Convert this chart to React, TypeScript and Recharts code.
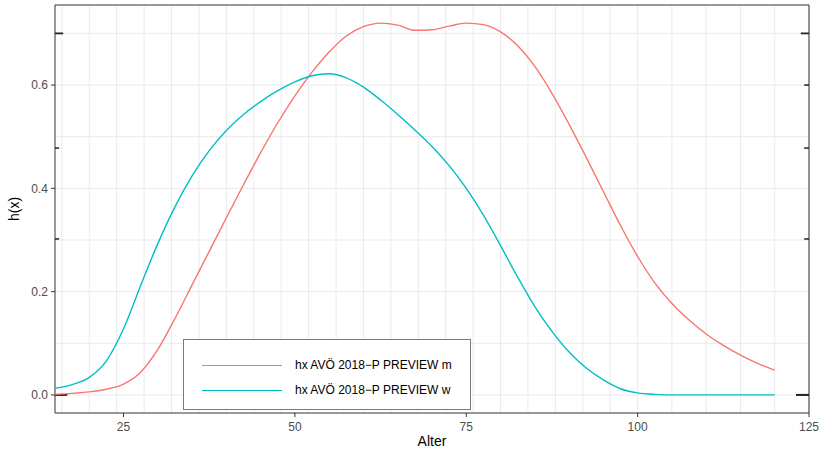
import React from 'react';
import {
  LineChart,
  Line,
  XAxis,
  YAxis,
  CartesianGrid,
  ReferenceArea,
  ReferenceLine,
} from 'recharts';

// Alter (x) und h(x) je Geschlecht
const ages = [
  15, 17.5, 20, 22.5, 25, 27.5, 30, 32.5, 35, 37.5, 40, 42.5, 45, 47.5, 50,
  52.5, 55, 57.5, 60, 62.5, 65, 67.5, 70, 72.5, 75, 77.5, 80, 82.5, 85, 87.5,
  90, 92.5, 95, 97.5, 100, 102.5, 105, 107.5, 110, 112.5, 115, 117.5, 120,
];
const hxMale = [
  0.001, 0.003, 0.006, 0.011, 0.021, 0.044, 0.088, 0.148, 0.213, 0.278, 0.343,
  0.407, 0.469, 0.527, 0.579, 0.625, 0.664, 0.695, 0.713, 0.72, 0.716, 0.706,
  0.707, 0.714, 0.72, 0.717, 0.703, 0.676, 0.636, 0.584, 0.524, 0.46, 0.394,
  0.328, 0.268, 0.217, 0.177, 0.145, 0.118, 0.096, 0.077, 0.061, 0.048,
];
const hxFemale = [
  0.013, 0.02, 0.034, 0.066, 0.128, 0.212, 0.293, 0.364, 0.424, 0.473, 0.512,
  0.543, 0.568, 0.589, 0.606, 0.618, 0.622, 0.614, 0.596, 0.571, 0.543, 0.513,
  0.481, 0.444, 0.4, 0.348, 0.289, 0.228, 0.171, 0.123, 0.083, 0.052, 0.029,
  0.012, 0.004, 0.001, 0, 0, 0, 0, 0, 0, 0,
];
const seriesNames = ['hx AVÖ 2018\u2212P PREVIEW m', 'hx AVÖ 2018\u2212P PREVIEW w'];
const seriesColors = ['#F8766D', '#00BFC4'];

const xTicks = [25, 50, 75, 100, 125];
const yTicks = [0, 0.2, 0.4, 0.6];
const xGrid = Array.from({ length: 111 }, (_, i) => 15 + i);
const yGrid = [0, 0.1, 0.2, 0.3, 0.4, 0.5, 0.6, 0.7];

// kleine Striche am Panelrand (Wert, Länge in Jahren)
const leftMarks = [
  { y: 0.7, len: 1.2, w: 1.8 },
  { y: 0.478, len: 0.6, w: 1.5 },
  { y: 0.302, len: 0.6, w: 1.5 },
  { y: 0, len: 1.8, w: 2 },
];
const rightMarks = [
  { y: 0.7, len: 1.2, w: 1.8 },
  { y: 0.6, len: 0.7, w: 1.5 },
  { y: 0.478, len: 0.7, w: 1.5 },
  { y: 0.302, len: 0.7, w: 1.5 },
  { y: 0, len: 1.9, w: 2 },
];

const X_MIN = 15;
const X_MAX = 125;
const Y_MIN = -0.035;
const Y_MAX = 0.755;

const data = ages.map((a, i) => ({ age: a, m: hxMale[i], w: hxFemale[i] }));

const FONT = '"Liberation Sans", Arial, Helvetica, sans-serif';
const tickStyle = { fill: '#4d4d4d', fontSize: 12, fontFamily: FONT };

export default function App() {
  return (
    <div style={{ position: 'absolute', left: 0, top: 0, width: 819, height: 451, background: '#fff', fontFamily: FONT }}>
      <LineChart width={819} height={451} data={data} margin={{ top: 5, right: 10, bottom: 0, left: 0 }}>
        <CartesianGrid
          stroke="#ebebeb"
          strokeWidth={1}
          horizontalValues={yGrid}
          verticalValues={xGrid}
        />
        <XAxis
          dataKey="age"
          type="number"
          domain={[X_MIN, X_MAX]}
          ticks={xTicks}
          allowDataOverflow
          height={38}
          axisLine={false}
          tickSize={4}
          tickMargin={5}
          tickLine={{ stroke: '#333' }}
          tick={tickStyle}
          label={(props: any) => {
            const vb = props.viewBox;
            return (
              <text x={vb.x + vb.width / 2} y={446} textAnchor="middle" fontSize={14} fontFamily={FONT} fill="#000">
                Alter
              </text>
            );
          }}
        />
        <YAxis
          type="number"
          domain={[Y_MIN, Y_MAX]}
          ticks={yTicks}
          allowDataOverflow
          width={55}
          axisLine={false}
          tickSize={4}
          tickMargin={3}
          tickLine={{ stroke: '#333' }}
          tick={tickStyle}
          tickFormatter={(v: number) => v.toFixed(1)}
          label={(props: any) => {
            const vb = props.viewBox;
            const cy = vb.y + vb.height / 2;
            return (
              <text x={19} y={cy} transform={`rotate(-90, 19, ${cy})`} textAnchor="middle" fontSize={14} fontFamily={FONT} fill="#000">
                h(x)
              </text>
            );
          }}
        />
        <ReferenceArea x1={X_MIN} x2={X_MAX} y1={Y_MIN} y2={Y_MAX} fill="none" stroke="#333" strokeWidth={1} ifOverflow="visible" />
        {leftMarks.map((t, i) => (
          <ReferenceLine
            key={`l${i}`}
            segment={[{ x: X_MIN, y: t.y }, { x: X_MIN + t.len, y: t.y }]}
            stroke="#222"
            strokeWidth={t.w}
            ifOverflow="visible"
          />
        ))}
        {rightMarks.map((t, i) => (
          <ReferenceLine
            key={`r${i}`}
            segment={[{ x: X_MAX - t.len, y: t.y }, { x: X_MAX, y: t.y }]}
            stroke="#222"
            strokeWidth={t.w}
            ifOverflow="visible"
          />
        ))}
        <Line type="monotone" dataKey="m" name={seriesNames[0]} stroke={seriesColors[0]} strokeWidth={1.4} dot={false} isAnimationActive={false} />
        <Line type="monotone" dataKey="w" name={seriesNames[1]} stroke={seriesColors[1]} strokeWidth={1.4} dot={false} isAnimationActive={false} />
      </LineChart>

      <div
        style={{
          position: 'absolute',
          left: 183,
          top: 339,
          width: 288,
          height: 71,
          boxSizing: 'border-box',
          border: '1px solid #7a7a7a',
          background: '#fff',
          fontSize: 12,
          color: '#000',
        }}
      >
        {seriesNames.map((name, i) => (
          <div
            key={name}
            style={{ position: 'absolute', left: 0, top: 17 + i * 25, height: 16, display: 'flex', alignItems: 'center', whiteSpace: 'nowrap' }}
          >
            <span style={{ marginLeft: 18, width: 80, height: 0, borderTop: `1.5px solid ${seriesColors[i]}` }} />
            <span style={{ marginLeft: 13 }}>{name}</span>
          </div>
        ))}
      </div>
    </div>
  );
}
